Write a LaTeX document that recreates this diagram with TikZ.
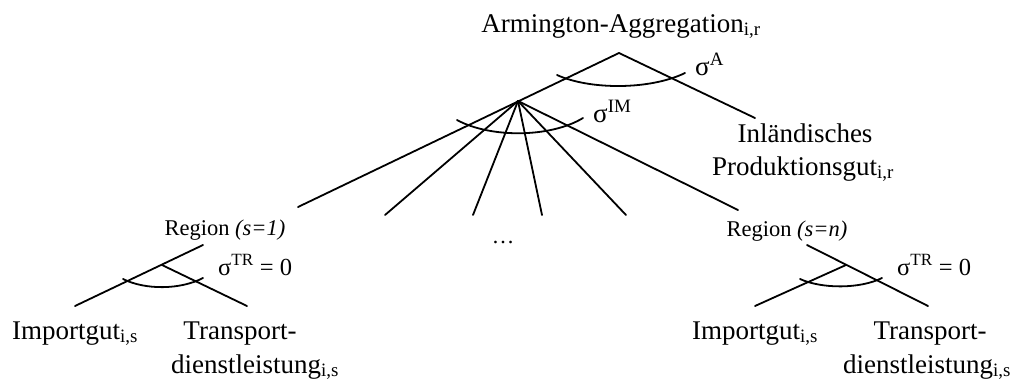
\documentclass[tikz,border=0pt]{standalone}
\usepackage{fontspec}
\setmainfont{Liberation Serif}
\tikzset{
  edge/.style={line width=1.8pt, line cap=round},
  big/.style={inner sep=0pt, font=\fontsize{27}{30}\selectfont},
  mid/.style={inner sep=0pt, font=\fontsize{24.5}{28}\selectfont},
  small/.style={inner sep=0pt, font=\fontsize{22.5}{26}\selectfont},
}
\begin{document}
\begin{tikzpicture}[x=1pt,y=-1pt]
\useasboundingbox (0,0) rectangle (1013,381);
% coordinates
\coordinate (apex) at (619,53);
\coordinate (hub) at (518,101);
\coordinate (dom) at (755,118);
\coordinate (r1) at (298,207);
\coordinate (m1) at (385,215);
\coordinate (m2) at (473,215);
\coordinate (m3) at (542,215);
\coordinate (m4) at (626,215);
\coordinate (rn) at (738,210);
\coordinate (lt) at (203,245);
\coordinate (lj) at (162,265);
\coordinate (li) at (75,306);
\coordinate (ltr) at (247,306);
\coordinate (rt) at (807,245);
\coordinate (rj) at (846,265);
\coordinate (ri) at (755,306);
\coordinate (rtr) at (928,306);
% labels
\node[big, anchor=base] (arm) at (621,32) {Armington-Aggregation\textsubscript{i,r}};
\node[big, anchor=base] (inl) at (805,142) {Inländisches};
\node[big, anchor=base] (prod) at (803,175) {Produktionsgut\textsubscript{i,r}};
\node[big, anchor=base west] (sa) at (695,75) {σ\textsuperscript{A}};
\node[big, anchor=base west] (sim) at (593,122) {σ\textsuperscript{IM}};
\node[small, anchor=base] (reg1) at (225,235) {Region \textit{(s=1)}};
\node[small, anchor=base] (regn) at (787,236) {Region \textit{(s=n)}};
\node[small, anchor=base] (dots) at (503,243) {…};
\node[mid, anchor=base west] (str1) at (218,275) {σ\textsuperscript{TR} = 0};
\node[mid, anchor=base west] (strn) at (897,275) {σ\textsuperscript{TR} = 0};
\node[big, anchor=base west] (imp1) at (12,339) {Importgut\textsubscript{i,s}};
\node[big, anchor=base] (tr1) at (240,339) {Transport-};
\node[big, anchor=base] (dl1) at (255,373) {dienstleistung\textsubscript{i,s}};
\node[big, anchor=base west] (impn) at (692,339) {Importgut\textsubscript{i,s}};
\node[big, anchor=base] (trn) at (930,339) {Transport-};
\node[big, anchor=base west] (dln) at (843,373) {dienstleistung\textsubscript{i,s}};
% edges
\draw[edge] (r1) -- (apex) -- (dom);
\foreach \e in {m1,m2,m3,m4,rn} \draw[edge] (hub) -- (\e);
\draw[edge] (lt) -- (li);
\draw[edge] (lj) -- (ltr);
\draw[edge] (rt) -- (rtr);
\draw[edge] (rj) -- (ri);
% elasticity arcs
\draw[edge] (557,75) .. controls (590,90) and (650,90) .. (685,73);
\draw[edge] (457,120) .. controls (490,138) and (550,138) .. (583,118);
\draw[edge] (123,279) .. controls (145,290) and (180,290) .. (203,278);
\draw[edge] (800,279) .. controls (822,289) and (860,289) .. (882,278);
\end{tikzpicture}
\end{document}
